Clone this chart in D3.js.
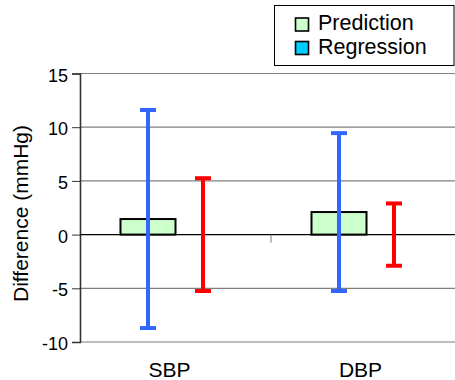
<!DOCTYPE html>
<html>
<head>
<meta charset="utf-8">
<script src="https://cdn.jsdelivr.net/npm/d3@7"></script>
<style>
  html, body { margin:0; padding:0; background:#fff; }
  svg { display:block; font-family:"Liberation Sans", Arial, Helvetica, sans-serif; }
</style>
</head>
<body>
<div id="chart"></div>
<script>
// Differenz SBP/DBP – Balken (Mittelwert) mit Fehlerbalken (± SD)
const categories   = ['SBP', 'DBP'];
const seriesNames  = ['Prediction', 'Regression'];
const predMean     = [1.45, 2.1];
const predSD       = [10.15, 7.35];
const regrMean     = [0, 0];
const regrSD       = [5.25, 2.9];
const yTicks       = [-10, -5, 0, 5, 10, 15];

const seriesFill  = { Prediction:'#ccffcc', Regression:'#00ccff' };
const errColor    = { Prediction:'#3366ff', Regression:'#ff0000' };

const rows = categories.map((c, i) => ({
  cat: c,
  vals: [
    { s:'Prediction', mean:predMean[i], sd:predSD[i] },
    { s:'Regression', mean:regrMean[i], sd:regrSD[i] }
  ]
}));

const W = 455, H = 380;
const svg = d3.select('#chart').append('svg')
  .attr('width', W).attr('height', H);

const x0 = d3.scaleBand().domain(categories).range([80, 462]).paddingInner(0).paddingOuter(0);
const x1 = d3.scaleBand().domain(seriesNames).range([0, x0.bandwidth()])
  .paddingInner(0).paddingOuter(0.736);
const y  = d3.scaleLinear().domain([-10, 15]).range([342, 73.5]);

// Gitterlinien
svg.append('g')
  .selectAll('line')
  .data(yTicks.filter(t => t !== 0))
  .enter().append('line')
    .attr('x1', 80).attr('x2', W)
    .attr('y1', d => y(d)).attr('y2', d => y(d))
    .attr('stroke', '#7f7f7f').attr('stroke-width', 1.2);

// y-Achse
const yAxis = svg.append('g')
  .attr('transform', 'translate(80,0)')
  .call(d3.axisLeft(y).tickValues(yTicks).tickSize(8).tickPadding(4).tickFormat(d => String(d)));
yAxis.select('.domain').attr('stroke', '#333').attr('stroke-width', 1.6);
yAxis.selectAll('.tick line').attr('stroke', '#333');
yAxis.selectAll('.tick text')
  .attr('font-size', 18).attr('fill', '#000')
  .attr('font-family', '"Liberation Sans", Arial, sans-serif')
  .attr('dy', '0.42em');

// Kategorie-Achse auf y=0
const xAxis = svg.append('g')
  .attr('transform', `translate(0,${y(0)})`);
xAxis.append('line')
  .attr('x1', 80).attr('x2', W)
  .attr('stroke', '#000').attr('stroke-width', 1.2);
xAxis.selectAll('line.sep')
  .data(categories.slice(1))
  .enter().append('line')
    .attr('class', 'sep')
    .attr('x1', d => x0(d)).attr('x2', d => x0(d))
    .attr('y1', 0).attr('y2', 8)
    .attr('stroke', '#777').attr('stroke-width', 1);

// Kategorie-Beschriftung unten
svg.append('g')
  .selectAll('text')
  .data(categories)
  .enter().append('text')
    .attr('x', d => x0(d) + x0.bandwidth()/2 - 6)
    .attr('y', 377)
    .attr('text-anchor', 'middle')
    .attr('font-size', 21).attr('fill', '#000')
    .text(d => d);

// Balken
const groups = svg.append('g')
  .selectAll('g')
  .data(rows)
  .enter().append('g')
    .attr('transform', d => `translate(${x0(d.cat)},0)`);

groups.selectAll('rect')
  .data(d => d.vals.filter(v => v.mean !== 0))
  .enter().append('rect')
    .attr('x', d => x1(d.s))
    .attr('y', d => y(Math.max(0, d.mean)))
    .attr('width', x1.bandwidth())
    .attr('height', d => Math.abs(y(d.mean) - y(0)))
    .attr('fill', d => seriesFill[d.s])
    .attr('stroke', '#000').attr('stroke-width', 2);

// Fehlerbalken
const err = groups.selectAll('g.err')
  .data(d => d.vals)
  .enter().append('g')
    .attr('class', 'err')
    .attr('stroke', d => errColor[d.s])
    .attr('stroke-width', 4);
const cx = d => x1(d.s) + x1.bandwidth()/2;
const capW = 8;
err.append('line')
  .attr('x1', cx).attr('x2', cx)
  .attr('y1', d => y(d.mean + d.sd)).attr('y2', d => y(d.mean - d.sd));
err.append('line')
  .attr('x1', d => cx(d) - capW).attr('x2', d => cx(d) + capW)
  .attr('y1', d => y(d.mean + d.sd)).attr('y2', d => y(d.mean + d.sd));
err.append('line')
  .attr('x1', d => cx(d) - capW).attr('x2', d => cx(d) + capW)
  .attr('y1', d => y(d.mean - d.sd)).attr('y2', d => y(d.mean - d.sd));

// Achsentitel
svg.append('text')
  .attr('transform', 'translate(27.5,213.5) rotate(-90)')
  .attr('text-anchor', 'middle')
  .attr('font-size', 21).attr('fill', '#000')
  .text('Difference (mmHg)');

// Legende
const leg = svg.append('g');
leg.append('rect')
  .attr('x', 274.5).attr('y', 5.5)
  .attr('width', 179.5).attr('height', 60)
  .attr('fill', '#fff').attr('stroke', '#000').attr('stroke-width', 1);
const li = leg.selectAll('g.item')
  .data(seriesNames)
  .enter().append('g')
    .attr('class', 'item')
    .attr('transform', (d, i) => `translate(295,${30 + i*23.5})`);
li.append('rect')
  .attr('x', 0.5).attr('y', -12)
  .attr('width', 13).attr('height', 13)
  .attr('fill', d => seriesFill[d])
  .attr('stroke', '#000').attr('stroke-width', 1.6);
li.append('text')
  .attr('x', 23).attr('y', 0)
  .attr('font-size', 21.5).attr('fill', '#000')
  .text(d => d);
</script>
</body>
</html>
